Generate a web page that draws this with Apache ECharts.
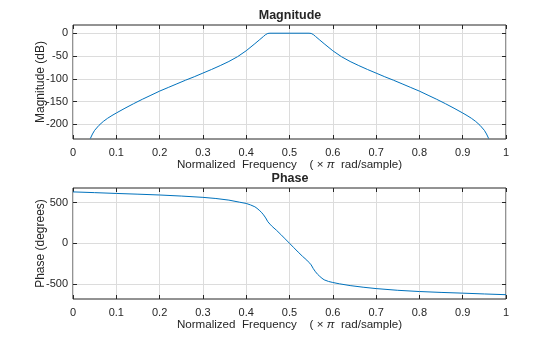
<!DOCTYPE html>
<html>
<head>
<meta charset="utf-8">
<script src="https://cdn.jsdelivr.net/npm/echarts@6/dist/echarts.min.js"></script>
<style>html,body{margin:0;padding:0;background:#fff}#c{width:560px;height:337px}</style>
</head>
<body>
<div id="c"></div>
<script>
// ---- data ----
var magFreq = [0.04,0.045,0.05,0.06,0.07,0.08,0.09,0.10,0.12,0.14,0.16,0.18,0.20,0.22,0.24,0.26,0.28,0.30,0.32,0.34,0.36,0.38,0.40,0.42,0.43,0.44,0.445,0.45,0.455,
               0.545,0.55,0.555,0.56,0.57,0.58,0.60,0.62,0.64,0.66,0.68,0.70,0.72,0.74,0.76,0.78,0.80,0.82,0.84,0.86,0.88,0.90,0.91,0.92,0.93,0.94,0.95,0.955,0.96];
var magDB = [-231,-221,-213,-202,-193.5,-186.5,-180.5,-175,-164.5,-154.5,-145,-136,-127,-119,-111,-103,-95.5,-87.5,-79.5,-71,-62,-51.5,-38.5,-23,-15,-7,-3,-0.5,0,
             0,-0.5,-3,-7,-15,-23,-38.5,-51.5,-62,-71,-79.5,-87.5,-95.5,-103,-111,-119,-127,-136,-145,-154.5,-164.5,-175,-180.5,-186.5,-193.5,-202,-213,-221,-231];
var phFreq = [0,0.05,0.10,0.15,0.20,0.25,0.30,0.33,0.36,0.385,0.40,0.41,0.42,0.425,0.43,0.435,0.44,0.445,0.45,0.455,0.46,0.47,0.48,0.49,0.50,
              0.51,0.52,0.53,0.54,0.545,0.55,0.555,0.56,0.565,0.57,0.575,0.58,0.59,0.60,0.615,0.64,0.67,0.70,0.75,0.80,0.85,0.90,0.95,1.0];
var phDeg = [632,623,613,604,594,581,565,551,531,505,490,472,449,430,407,382,350,312,265,235,207,160,108,54,0,
             -54,-108,-160,-207,-235,-265,-312,-350,-382,-407,-430,-449,-469,-482,-498,-520,-540,-557,-578,-593,-604,-613,-623,-632];
var xTicks = [0,0.1,0.2,0.3,0.4,0.5,0.6,0.7,0.8,0.9,1];
var magTicks = [-200,-150,-100,-50,0];
var phTicks = [-500,0,500];

function pairs(xs, ys){ return xs.map(function(x,i){ return [x, ys[i]]; }); }

var FONT = '"Liberation Sans", Arial, Helvetica, sans-serif';
var TXT = '#262626';
var GRIDC = '#dcdcdc';
var LINE = '#0072bd';

function xMain(gi){
  return {
    type:'value', gridIndex:gi, min:0, max:1, interval:0.1, position:'bottom',
    axisLine:{show:false, onZero:false},
    axisTick:{show:true, inside:true, length:4, lineStyle:{color:TXT}},
    axisLabel:{color:TXT, fontFamily:FONT, fontSize:11, margin:8,
      formatter:function(v){ var r=Math.round(v*10)/10; return (r===0||r===1)? String(r): r.toFixed(1);} },
    splitLine:{show:true, lineStyle:{color:GRIDC, width:1}},
    name:'Normalized  Frequency    ( \u00d7 {pi|\u03c0}  rad/sample)',
    nameLocation:'middle', nameGap:20, nameMoveOverlap:false,
    nameTextStyle:{color:TXT, fontFamily:FONT, fontSize:11.6,
      rich:{pi:{fontStyle:'italic', fontFamily:FONT, fontSize:11.6, color:TXT}}}
  };
}
function xTop(gi){
  return {
    type:'value', gridIndex:gi, min:0, max:1, interval:0.1, position:'top',
    axisLine:{show:false, onZero:false}, axisLabel:{show:false}, splitLine:{show:false},
    axisTick:{show:true, inside:true, length:4, lineStyle:{color:TXT}}
  };
}
function yMain(gi, mn, mx, ticks, name){
  return {
    type:'value', gridIndex:gi, min:mn, max:mx, position:'left',
    axisLine:{show:false, onZero:false},
    axisTick:{show:true, inside:true, length:4, lineStyle:{color:TXT}, customValues:ticks},
    axisLabel:{color:TXT, fontFamily:FONT, fontSize:11, margin:5, customValues:ticks},
    splitLine:{show:true, lineStyle:{color:GRIDC, width:1}},
    name:name, nameLocation:'middle', nameGap:26, nameMoveOverlap:false,
    nameTextStyle:{color:TXT, fontFamily:FONT, fontSize:12}
  };
}
function yRight(gi, mn, mx, ticks){
  return {
    type:'value', gridIndex:gi, min:mn, max:mx, position:'right',
    axisLine:{show:false, onZero:false}, axisLabel:{show:false, customValues:ticks}, splitLine:{show:false},
    axisTick:{show:true, inside:true, length:4, lineStyle:{color:TXT}, customValues:ticks}
  };
}

var chart = echarts.init(document.getElementById('c'), null, {renderer:'canvas'});
chart.setOption({
  backgroundColor:'#ffffff',
  animation:false,
  title:[
    {text:'Magnitude', left:290, top:9, textAlign:'center', padding:0,
     textStyle:{fontFamily:FONT, fontSize:12.5, fontWeight:'bold', color:TXT}},
    {text:'Phase', left:290, top:172, textAlign:'center', padding:0,
     textStyle:{fontFamily:FONT, fontSize:12.5, fontWeight:'bold', color:TXT}}
  ],
  grid:[
    {left:73, right:54, top:25, height:114, show:true, borderColor:TXT, borderWidth:1, backgroundColor:'transparent'},
    {left:73, right:54, top:188, height:111, show:true, borderColor:TXT, borderWidth:1, backgroundColor:'transparent'}
  ],
  xAxis:[ xMain(0), xTop(0), xMain(1), xTop(1) ],
  yAxis:[
    yMain(0, -232, 18, magTicks, 'Magnitude (dB)'), yRight(0, -232, 18, magTicks),
    yMain(1, -685, 680, phTicks, 'Phase (degrees)'), yRight(1, -685, 680, phTicks)
  ],
  series:[
    {type:'line', xAxisIndex:0, yAxisIndex:0, data:pairs(magFreq, magDB), showSymbol:false,
     smooth:false, clip:true, lineStyle:{color:LINE, width:1}},
    {type:'line', xAxisIndex:2, yAxisIndex:2, data:pairs(phFreq, phDeg), showSymbol:false,
     smooth:false, clip:true, lineStyle:{color:LINE, width:1}}
  ]
});
</script>
</body>
</html>
